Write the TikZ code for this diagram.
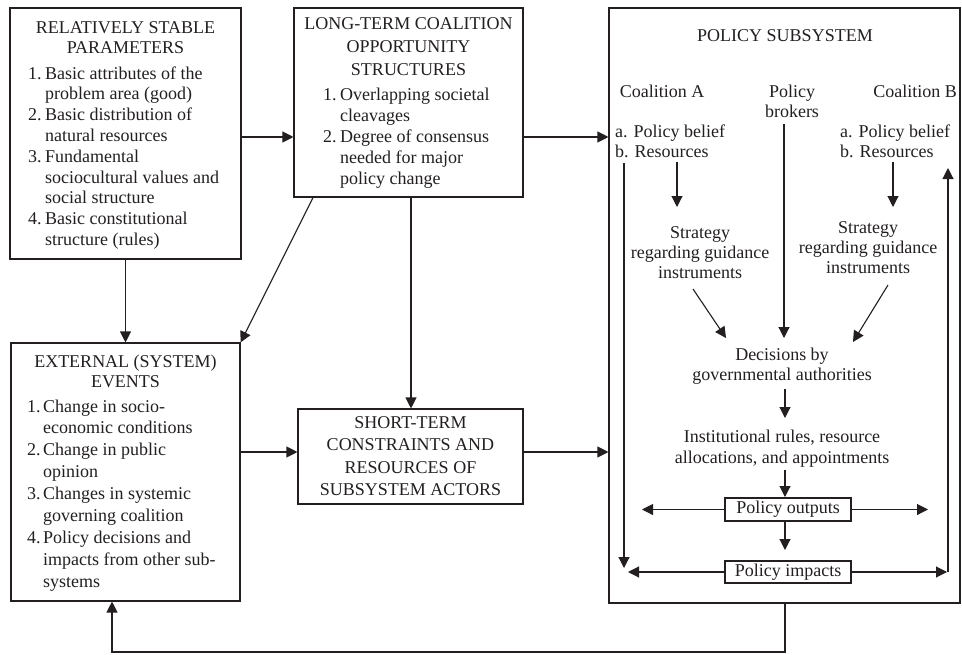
\documentclass[tikz,border=0pt]{standalone}
\usepackage{fontspec}
\setmainfont{Liberation Serif}
\usetikzlibrary{arrows.meta}
\definecolor{ink}{RGB}{35,31,32}
\newcommand\dfont[1]{\fontsize{18}{#1}\selectfont}
\newcommand\itnum[2][17pt]{\makebox[#1][l]{#2}}
\begin{document}
\begin{tikzpicture}[x=1pt,y=-1pt,
  box/.style={draw=ink,line width=1.1pt,rectangle,inner sep=0pt},
  arr/.style={draw=ink,line width=1.1pt,-{Triangle[length=11pt,width=11pt]}},
  txt/.style={text=ink,inner sep=0pt,font=\dfont{21}}]
\useasboundingbox (0,0) rectangle (962,654);

% boxes
\node[box,minimum width=231pt,minimum height=251pt] (b1) at (125.5,133.5) {};
\node[box,minimum width=229pt,minimum height=189pt] (b2) at (408.5,102.5) {};
\node[box,minimum width=351pt,minimum height=595pt] (ps) at (784.5,305.5) {};
\node[box,minimum width=229pt,minimum height=258pt] (ext) at (125.5,472) {};
\node[box,minimum width=225pt,minimum height=95pt] (st) at (410.5,456.5) {};

% box 1 text
\node[txt,font=\dfont{20},anchor=base] (b1h) at (125.5,33)
  {\begin{tabular}[t]{@{}c@{}}RELATIVELY STABLE\\PARAMETERS\end{tabular}};
\node[txt,font=\dfont{20.8},anchor=base west] (b1l) at (28,79)
  {\begin{tabular}[t]{@{}l@{}l@{}}
   \itnum{1.}&Basic attributes of the\\ &problem area (good)\\
   \itnum{2.}&Basic distribution of\\ &natural resources\\
   \itnum{3.}&Fundamental\\ &sociocultural values and\\ &social structure\\
   \itnum{4.}&Basic constitutional\\ &structure (rules)\end{tabular}};

% box 2 text
\node[txt,font=\dfont{23},anchor=base] (b2h) at (408.5,29)
  {\begin{tabular}[t]{@{}c@{}}LONG-TERM COALITION\\OPPORTUNITY\\STRUCTURES\end{tabular}};
\node[txt,font=\dfont{21},anchor=base west] (b2l) at (323,100)
  {\begin{tabular}[t]{@{}l@{}l@{}}
   \itnum{1.}&Overlapping societal\\ &cleavages\\
   \itnum{2.}&Degree of consensus\\ &needed for major\\ &policy change\end{tabular}};

% external text
\node[txt,font=\dfont{20},anchor=base] (exh) at (125.5,367)
  {\begin{tabular}[t]{@{}c@{}}EXTERNAL (SYSTEM)\\EVENTS\end{tabular}};
\node[txt,font=\dfont{21.9},anchor=base west] (exl) at (27,412)
  {\begin{tabular}[t]{@{}l@{}l@{}}
   \itnum[16pt]{1.}&Change in socio-\\ &economic conditions\\
   \itnum[16pt]{2.}&Change in public\\ &opinion\\
   \itnum[16pt]{3.}&Changes in systemic\\ &governing coalition\\
   \itnum[16pt]{4.}&Policy decisions and\\ &impacts from other sub-\\ &systems\end{tabular}};

% short-term text
\node[txt,font=\dfont{22.5},anchor=base] (sth) at (410.5,428)
  {\begin{tabular}[t]{@{}c@{}}SHORT-TERM\\CONSTRAINTS AND\\RESOURCES OF\\SUBSYSTEM ACTORS\end{tabular}};

% policy subsystem text
\node[txt,anchor=base] (psh) at (785,41) {POLICY SUBSYSTEM};
\node[txt,anchor=base] (ca) at (662,97) {Coalition A};
\node[txt,font=\dfont{20},anchor=base] (pbk) at (792,97)
  {\begin{tabular}[t]{@{}c@{}}Policy\\brokers\end{tabular}};
\node[txt,anchor=base] (cb) at (915,97) {Coalition B};
\node[txt,font=\dfont{20},anchor=base west] (pal) at (615,137)
  {\begin{tabular}[t]{@{}l@{}}a. Policy belief\\b. Resources\end{tabular}};
\node[txt,font=\dfont{20},anchor=base west] (pbl) at (840,137)
  {\begin{tabular}[t]{@{}l@{}}a. Policy belief\\b. Resources\end{tabular}};
\node[txt,font=\dfont{20},anchor=base] (sa) at (700,238)
  {\begin{tabular}[t]{@{}c@{}}Strategy\\regarding guidance\\instruments\end{tabular}};
\node[txt,font=\dfont{20},anchor=base] (sb) at (868,233)
  {\begin{tabular}[t]{@{}c@{}}Strategy\\regarding guidance\\instruments\end{tabular}};
\node[txt,font=\dfont{20},anchor=base] (dec) at (782,360)
  {\begin{tabular}[t]{@{}c@{}}Decisions by\\governmental authorities\end{tabular}};
\node[txt,font=\dfont{21},anchor=base] (inst) at (782,442)
  {\begin{tabular}[t]{@{}c@{}}Institutional rules, resource\\allocations, and appointments\end{tabular}};
\node[box,txt,draw=ink,minimum width=126pt,minimum height=23pt] (out) at (788,509.5) {Policy outputs};
\node[box,txt,draw=ink,minimum width=126pt,minimum height=22pt] (imp) at (788,572) {Policy impacts};

% main connectors
\coordinate (h137) at (0,137);
\coordinate (h452) at (0,452);
\coordinate (d1) at (313,0);
\coordinate (v411) at (411,0);
\draw[arr] (b1.east |- h137) -- (b2.west |- h137);
\draw[arr] (b2.east |- h137) -- (ps.west |- h137);
\draw[arr] (b1.south) -- (ext.north);
\draw[arr] (b2.south -| d1) -- (ext.north east);
\draw[arr] (b2.south -| v411) -- (st.north -| v411);
\draw[arr] (ext.east |- h452) -- (st.west |- h452);
\draw[arr] (st.east |- h452) -- (ps.west |- h452);

% feedback
\coordinate (fb1) at (785,652);
\coordinate (fb2) at (112,652);
\draw[arr] (ps.south -| fb1) -- (fb1) -- (fb2) -- (ext.south -| fb2);

% subsystem connectors
\coordinate (a1) at (677,162); \coordinate (a2) at (677,207);
\coordinate (c1) at (893,162); \coordinate (c2) at (893,207);
\coordinate (k1) at (784,124); \coordinate (k2) at (784,338);
\coordinate (s1) at (693,289); \coordinate (s2) at (726,338);
\coordinate (t1) at (888,285); \coordinate (t2) at (853,342);
\coordinate (e1) at (785,389); \coordinate (e2) at (785,418);
\coordinate (f1) at (785,470); \coordinate (f2) at (785,497);
\coordinate (oL) at (642,509.5); \coordinate (oR) at (928,509.5);
\coordinate (g2) at (785,550);
\coordinate (iL) at (628,572); \coordinate (iR) at (947,572);
\coordinate (lv1) at (624,163); \coordinate (lv2) at (624,568);
\coordinate (rv1) at (948,572); \coordinate (rv2) at (948,168);
\draw[arr] (a1) -- (a2);
\draw[arr] (c1) -- (c2);
\draw[arr] (k1) -- (k2);
\draw[arr] (s1) -- (s2);
\draw[arr] (t1) -- (t2);
\draw[arr] (e1) -- (e2);
\draw[arr] (f1) -- (f2);
\draw[arr] (out.west) -- (oL);
\draw[arr] (out.east) -- (oR);
\draw[arr] (out.south -| g2) -- (g2);
\draw[arr] (imp.west) -- (iL);
\draw[arr] (imp.east) -- (iR);
\draw[arr] (lv1) -- (lv2);
\draw[arr] (rv1) -- (rv2);
\end{tikzpicture}
\end{document}
